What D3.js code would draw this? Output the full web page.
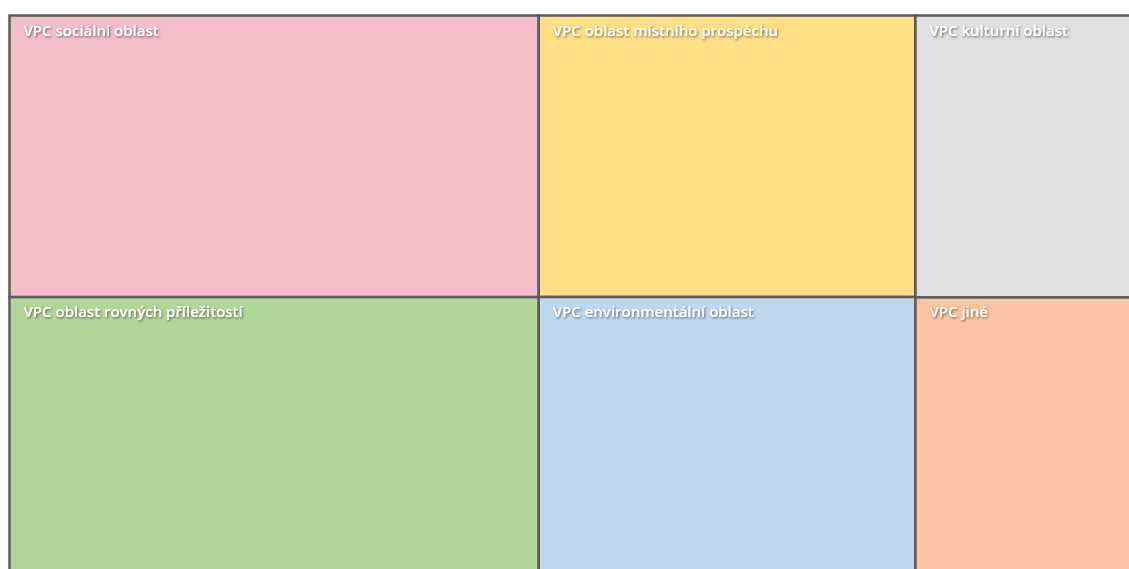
<!DOCTYPE html>
<html>
<head>
<meta charset="utf-8">
<script src="https://cdn.jsdelivr.net/npm/d3@7"></script>
<style>
	body { margin: 0; background: #fff; overflow: hidden; }
	#map text { font-family: "Open Sans", sans-serif; font-weight: 600; font-size: 15px; fill: #fff; }
</style>
</head>
<body>
<svg id="map" width="1129" height="569"></svg>
<script>

// columns of the treemap, each holding two areas (top, bottom)
var columns = ["c1", "c2", "c3"];
var names = [
	["VPC sociální oblast", "VPC oblast rovných příležitostí"],
	["VPC oblast místního prospěchu", "VPC environmentální oblast"],
	["VPC kulturní oblast", "VPC jiné"]
];
var values = [
	[26.7, 26.4],
	[19.0, 18.8],
	[14.6, 14.4]
];
var colors = [
	["#f3bec7", "#b2d598"],
	["#ffde86", "#bdd7ee"],
	["#e0e0e0", "#f8c4a1"]
];


function drawMap()
{
	var map = d3.select("#map");

	var data = {
		name: "root",
		children: columns.map(function(c, i)
		{
			return {
				name: c,
				children: names[i].map(function(n, j)
				{
					return { name: n, value: values[i][j], color: colors[i][j] };
				})
			};
		})
	};

	var root = d3.hierarchy(data).sum(function(d) { return d.value; });

	// the chart is larger than the window, right and bottom edges are cut off
	d3.treemap()
		.tile(d3.treemapSliceDice)
		.size([1195, 560])(root);

	var defs = map.append("defs");
	var f = defs.append("filter").attr("id", "shadow")
		.attr("x", "-10%").attr("y", "-30%").attr("width", "120%").attr("height", "160%");
	f.append("feDropShadow")
		.attr("dx", 1).attr("dy", 1.2)
		.attr("stdDeviation", 0.9)
		.attr("flood-color", "#000")
		.attr("flood-opacity", 0.55);

	var g = map.append("g").attr("transform", "translate(9.5,15.5)");

	var cells = g.selectAll(".cell")
		.data(root.leaves())
		.enter()
		.append("g")
		.classed("cell", true)
		.attr("transform", function(d)
		{
			return "translate(" + d.x0 + "," + d.y0 + ")";
		});

	cells.append("rect")
		.attr("width", function(d) { return d.x1 - d.x0; })
		.attr("height", function(d) { return d.y1 - d.y0; })
		.attr("fill", function(d) { return d.data.color; })
		.attr("stroke", "#5b5b5b")
		.attr("stroke-width", 2.5);

	cells.append("text")
		.attr("x", 14)
		.attr("y", 20)
		.attr("filter", "url(#shadow)")
		.text(function(d) { return d.data.name; });
}

drawMap();

</script>
</body>
</html>
